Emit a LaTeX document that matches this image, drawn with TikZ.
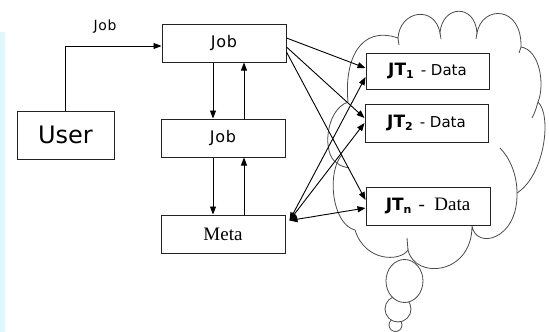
\documentclass[tikz,border=0pt]{standalone}
\usepackage{fontspec}
\usetikzlibrary{arrows.meta}
\usetikzlibrary{positioning,calc}
\newfontfamily\verafont{DejaVu Sans}
\newfontfamily\widevera[LetterSpace=5]{DejaVu Sans}
\newfontfamily\serifface{Liberation Serif}
\definecolor{edgegray}{RGB}{35,35,35}
\definecolor{cloudgray}{RGB}{75,75,75}
\definecolor{stripcyan}{RGB}{224,248,252}
% bold task name with its lowered index
\newcommand{\jtname}[1]{{\bfseries JT}\raisebox{-3pt}{\fontsize{11}{11}\selectfont\bfseries #1}}

\begin{document}
\begin{tikzpicture}[x=1pt,y=-1pt,
    box/.style={draw=edgegray,fill=white,line width=1pt,inner sep=0pt,
      minimum width=124pt,minimum height=38pt},
    sanstext/.style={font=\widevera\fontsize{16}{19}\selectfont},
    arr/.style={-{Triangle[length=8pt,width=6pt]},line width=0.9pt,black},
    dblarr/.style={{Triangle[length=8pt,width=6pt]}-{Triangle[length=8pt,width=6pt]},
      line width=0.9pt,black},
    cloudline/.style={draw=cloudgray,line width=0.8pt}]
  \useasboundingbox (0,0) rectangle (549,332);
  \fill[stripcyan] (0,32) rectangle (5,332);

  % the cloud, one bump after another
  \draw[cloudline] (348,102)
    .. controls (344,60) and (360,25) .. (398,38)
    .. controls (400,10) and (435,5) .. (440,33)
    .. controls (442,5) and (475,3) .. (477,33)
    .. controls (482,5) and (522,5) .. (521,47)
    .. controls (540,50) and (545,85) .. (538,102)
    .. controls (552,115) and (545,175) .. (517,193)
    .. controls (518,240) and (476,250) .. (472,226)
    .. controls (472,275) and (415,280) .. (408,250)
    .. controls (400,262) and (365,262) .. (355,230)
    .. controls (335,225) and (328,185) .. (337,163)
    .. controls (322,155) and (325,110) .. (348,102);
  % inner ends of the bumps
  \draw[cloudline] (500,148) .. controls (510,158) and (517,175) .. (517,193);
  \draw[cloudline] (532,118) .. controls (535,112) .. (538,102);
  \draw[cloudline] (408,250) -- (407,238);
  \draw[cloudline] (337,163) .. controls (340,157) .. (342,155);
  \draw[cloudline] (337,163) .. controls (341,166) .. (349,168);
  \draw[cloudline] (398,38) -- (399,45);
  \draw[cloudline] (440,33) -- (441,39);
  \draw[cloudline] (477,33) -- (476,39);
  \draw[cloudline] (521,47) -- (519,53);

  % thought bubbles
  \draw[cloudline,fill=white] (395.5,325) ellipse (6.5pt and 6.5pt);
  \draw[cloudline,fill=white] (398,309) ellipse (13pt and 13pt);
  \draw[cloudline,fill=white] (404.5,281) ellipse (18.5pt and 21.5pt);

  % boxes
  \node[box,minimum width=97pt,minimum height=48pt,
    font=\verafont\fontsize{24}{28}\selectfont] (user) at (65.5,135) {User};
  \node[box,sanstext] (jobtop) at (224,43) {Job};
  \node[box,sanstext] (jobmid) at (223,138) {Job};
  \node[box,font=\serifface\fontsize{19}{22}\selectfont] (meta) at (223,234) {Meta};
  \node[box,minimum width=123pt,minimum height=36pt,
    font=\verafont\fontsize{17}{20}\selectfont] (jt1) at (427.5,71)
    {\jtname{1}\hspace{7pt}{\fontsize{15}{18}\selectfont - Data}};
  \node[box,minimum width=123pt,font=\verafont\fontsize{17}{20}\selectfont]
    (jt2) at (426.5,123)
    {\jtname{2}\hspace{7pt}{\fontsize{15}{18}\selectfont - Data}};
  \node[box,font=\verafont\fontsize{17}{20}\selectfont] (jtn) at (428,206)
    {\jtname{n}\hspace{7pt}{\serifface\fontsize{19}{22}\selectfont -\ \ Data}};

  \node[font=\widevera\fontsize{14}{17}\selectfont] (joblbl) at (105,27) {Job};

  % user hands over the job
  \draw[arr] (user.north) |- ([yshift=-3pt]jobtop.west);

  % job chain down to meta and back
  \draw[arr] ([xshift=-11pt]jobtop.south) -- ([xshift=-10pt]jobmid.north);
  \draw[arr] ([xshift=21pt]jobmid.north) -- ([xshift=20pt]jobtop.south);
  \draw[arr] ([xshift=-10pt]jobmid.south) -- ([xshift=-10pt]meta.north);
  \draw[arr] ([xshift=21pt]meta.north) -- ([xshift=21pt]jobmid.south);

  % job spreads to the task data
  \draw[arr] ([yshift=5pt]jobtop.east) -- ([yshift=3pt]jt1.west);
  \draw[arr] ([yshift=-4pt]jobtop.east) -- ([yshift=5pt]jt2.west);
  \draw[arr] ([yshift=-9pt]jobtop.east) -- ([yshift=6pt]jtn.west);

  % meta talks with every task
  \coordinate (metatip) at ([xshift=4pt,yshift=-6pt]meta.north east);
  \draw[dblarr] (metatip) -- ([yshift=-6pt]jt1.west);
  \draw[dblarr] (metatip) -- (jt2.west);
  \draw[dblarr] (metatip) -- ([yshift=-2pt]jtn.west);
\end{tikzpicture}
\end{document}
